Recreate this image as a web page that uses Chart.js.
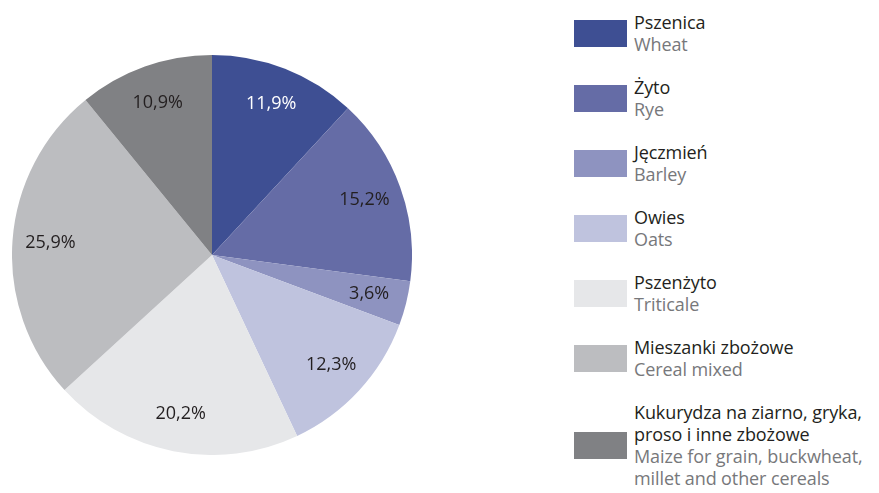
<!DOCTYPE html>
<html>
<head>
<meta charset="utf-8">
<script src="https://cdn.jsdelivr.net/npm/chart.js@4"></script>
<style>
    body { margin: 0; width: 879px; height: 493px; background: #fff; position: relative; overflow: hidden; font-family: "Open Sans", sans-serif; }
    #pie-wrap { position: absolute; left: 12px; top: 55px; width: 400px; height: 400px; }
    #legend { position: absolute; left: 574px; top: 11px; }
    .item { display: flex; align-items: center; margin-bottom: 21px; }
    .box { width: 53px; height: 27px; margin-right: 7px; flex: none; }
    .txt { font-size: 18px; line-height: 22px; letter-spacing: -0.1px; }
    .pl { color: #231f20; }
    .en { color: #77787b; }
</style>
</head>
<body>
<div id="pie-wrap"><canvas id="cereals-chart"></canvas></div>
<div id="legend"></div>
<script>
const labelsPl = ['Pszenica', 'Żyto', 'Jęczmień', 'Owies', 'Pszenżyto', 'Mieszanki zbożowe', 'Kukurydza na ziarno, gryka,\nproso i inne zbożowe'];
const labelsEn = ['Wheat', 'Rye', 'Barley', 'Oats', 'Triticale', 'Cereal mixed', 'Maize for grain, buckwheat,\nmillet and other cereals'];
const shares = [11.9, 15.2, 3.6, 12.3, 20.2, 25.9, 10.9];
const sliceColors = ['#3e4f93', '#656ca6', '#8e93c0', '#bfc3de', '#e6e7e9', '#bcbdc0', '#808184'];
const labelColors = ['#ffffff', '#231f20', '#231f20', '#231f20', '#231f20', '#231f20', '#231f20'];

const buildLegend = () => {
    const legend = document.getElementById('legend');
    labelsPl.forEach((pl, i) => {
        const item = document.createElement('div');
        item.className = 'item';
        const plHtml = pl.split('\n').map(s => '<div class="pl">' + s + '</div>').join('');
        const enHtml = labelsEn[i].split('\n').map(s => '<div class="en">' + s + '</div>').join('');
        item.innerHTML = '<div class="box" style="background:' + sliceColors[i] + '"></div><div class="txt">' + plHtml + enHtml + '</div>';
        legend.appendChild(item);
    });
}

// percent labels inside slices
const sliceLabels = {
    id: 'sliceLabels',
    afterDatasetsDraw(chart) {
        const ctx = chart.ctx;
        const meta = chart.getDatasetMeta(0);
        ctx.save();
        ctx.font = '18px "Open Sans", sans-serif';
        ctx.textAlign = 'center';
        ctx.textBaseline = 'middle';
        meta.data.forEach((arc, i) => {
            const p = arc.getProps(['x', 'y', 'startAngle', 'endAngle', 'outerRadius'], true);
            const mid = (p.startAngle + p.endAngle) / 2;
            const r = p.outerRadius * 0.81;
            ctx.fillStyle = labelColors[i];
            ctx.fillText(shares[i].toFixed(1).replace('.', ',') + '%', p.x + Math.cos(mid) * r, p.y + Math.sin(mid) * r);
        });
        ctx.restore();
    }
};

buildLegend();

const cerealsElement = document.getElementById('cereals-chart').getContext('2d');

const cerealsChart = new Chart(cerealsElement, {
    type: 'pie',
    data: {
        labels: labelsPl,
        datasets: [{
            data: shares,
            backgroundColor: sliceColors,
            borderWidth: 0
        }]
    },
    options: {
        responsive: true,
        maintainAspectRatio: false,
        animation: false,
        plugins: {
            legend: { display: false },
            tooltip: { enabled: false }
        }
    },
    plugins: [sliceLabels]
});
</script>
</body>
</html>
